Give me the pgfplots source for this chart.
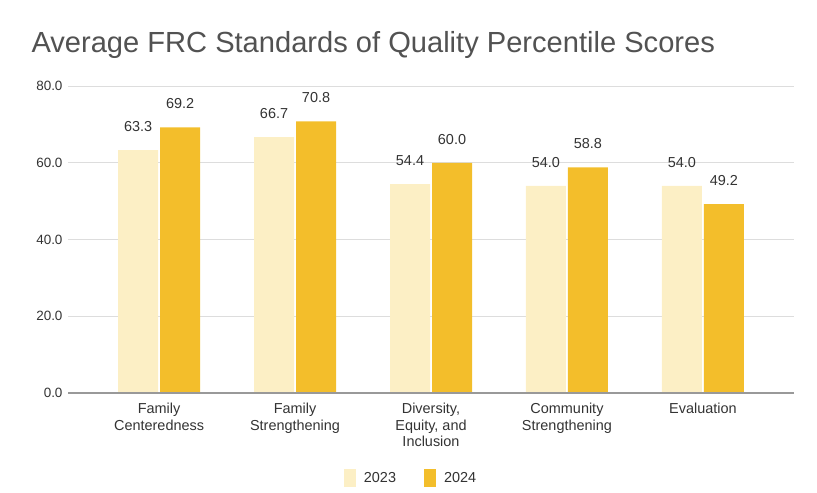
\documentclass[border=0pt]{standalone}
\usepackage{fontspec}
\setmainfont{Liberation Sans}
\usepackage{pgfplots}
\pgfplotsset{compat=1.18}
\definecolor{gold}{HTML}{F3BE2B}
\definecolor{pale}{HTML}{FCEFC5}
\definecolor{txt}{HTML}{333333}
\definecolor{gridc}{HTML}{DDDDDD}
\begin{document}
\begin{tikzpicture}
\begin{axis}[
  scale only axis, width=726bp, height=307bp,
  ybar=2bp, bar width=40bp,
  xmin=-0.67, xmax=4.67, ymin=0, ymax=80,
  xtick={0,1,2,3,4},
  xticklabels={Family\\Centeredness, Family\\Strengthening, {Diversity,\\Equity, and\\Inclusion}, Community\\Strengthening, Evaluation},
  xticklabel style={align=center, font=\fontsize{14.5}{16.5}\selectfont, text=txt, yshift=-7bp},
  ytick={0,20,40,60,80},
  yticklabel style={font=\fontsize{13.5}{14}\selectfont, text=txt, xshift=-2bp},
  /pgf/number format/assume math mode=true,
  yticklabel={\pgfmathprintnumber[fixed,fixed zerofill,precision=1]{\tick}},
  major tick length=0pt,
  xmajorgrids=false, ymajorgrids=true, grid style={draw=gridc, line width=1bp},
  axis line style={draw=none},
  nodes near coords,
  nodes near coords style={font=\fontsize{14.5}{15}\selectfont, text=txt, yshift=15bp, /pgf/number format/.cd, fixed, fixed zerofill, precision=1, assume math mode=true},
  legend style={at={(0.4725,-0.277)}, anchor=center, draw=none, legend columns=2, font=\fontsize{14.5}{15}\selectfont, text=txt, /tikz/every odd column/.append style={column sep=6bp}, /tikz/every even column/.append style={column sep=26bp}},
  legend image code/.code={\fill[#1] (0bp,-9bp) rectangle (12bp,9bp);},
]
\addplot[fill=pale, draw=none] coordinates {(0,63.3) (1,66.7) (2,54.4) (3,54.0) (4,54.0)};
\addplot[fill=gold, draw=none] coordinates {(0,69.2) (1,70.8) (2,60.0) (3,58.8) (4,49.2)};
\legend{2023,2024}
\draw[color=gray!80, line width=2bp] (axis cs:-0.67,0) -- (axis cs:4.67,0);
\end{axis}
\node[anchor=west, text=black!68, font=\fontsize{29.2}{32}\selectfont] at (-40bp,348bp) {Average FRC Standards of Quality Percentile Scores};
\path[use as bounding box] (-68bp,-100bp) rectangle (749bp,393bp);
\end{tikzpicture}
\end{document}
